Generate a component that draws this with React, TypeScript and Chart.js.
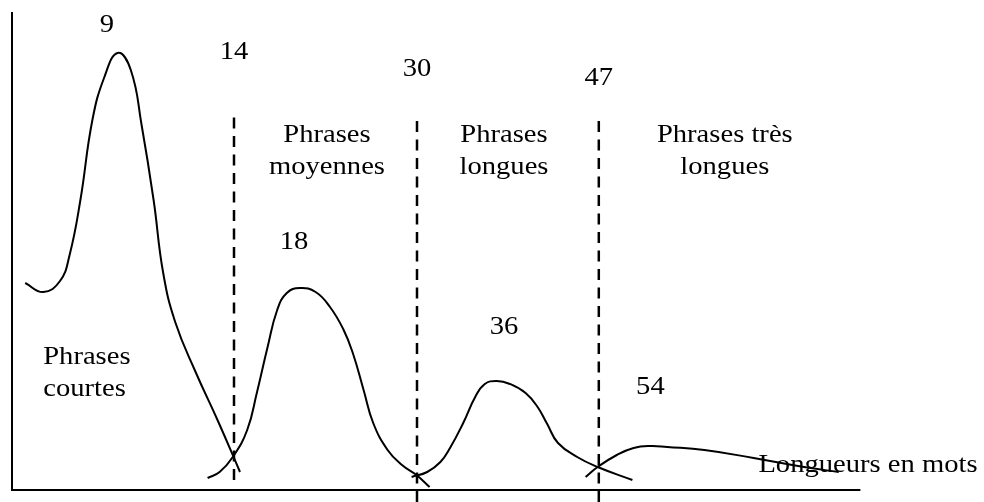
import React, { useEffect, useRef } from 'react';
import { Chart, registerables, ChartConfiguration, Plugin } from 'chart.js';

Chart.register(...registerables);

// schematic units: x = sentence length position, y = frequency
const courtesX = [1.1, 2.6, 4.0, 4.8, 5.7, 6.7, 7.7, 8.8, 9.9, 10.8, 11.8, 12.6, 13.6, 15.3, 17.2, 19.0];
const courtesY = [41.4, 39.6, 41.8, 47.0, 58.0, 74.0, 82.6, 87.4, 84.0, 73.0, 58.0, 43.4, 33.6, 23.6, 13.6, 3.6];

const moyennesX = [16.3, 17.3, 18.4, 19.6, 20.4, 21.3, 22.1, 22.9, 24.0, 25.3, 26.5, 27.6, 28.4, 29.3, 30.1, 31.3, 32.5, 33.7, 34.8];
const moyennesY = [2.4, 3.6, 6.6, 12.0, 19.4, 28.6, 36.0, 39.4, 40.4, 39.6, 36.6, 32.2, 27.4, 20.0, 13.4, 8.0, 5.0, 3.0, 0.6];

const longuesX = [33.3, 34.6, 35.7, 36.5, 37.6, 38.6, 39.4, 40.4, 41.5, 42.8, 43.8, 44.6, 45.5, 47.1, 48.8, 51.7];
const longuesY = [2.6, 3.6, 5.6, 8.4, 13.4, 18.6, 21.2, 21.8, 21.2, 19.4, 16.6, 13.2, 9.4, 6.6, 4.6, 2.0];

const tresLonguesX = [47.8, 48.8, 50.4, 51.8, 53.2, 54.6, 57.7, 61.8, 66.0, 68.9];
const tresLonguesY = [2.6, 4.6, 7.0, 8.4, 8.8, 8.6, 8.0, 6.4, 4.6, 3.6];

// class boundaries (schematic position) and their labels
const boundaryX = [18.5, 33.75, 48.9];
const boundaryTop = [75.4, 74.6, 74.0];
const boundaryBottom = [2.0, -2.4, -2.4];
const boundaryLabels = ['14', '30', '47'];

const peakLabels = ['9', '18', '36', '54'];
const classNames = [['Phrases', 'courtes'], ['Phrases', 'moyennes'], ['Phrases', 'longues'], ['Phrases très', 'longues']];
const axisTitle = 'Longueurs en mots';

const xAxisEnd = 70.7;
const yAxisTop = 95.6;

const zip = (xs: number[], ys: number[]) => xs.map((x, i) => ({ x, y: ys[i] }));

// text anchor points, in data units
const peakLabelPos = [[7.9, 93], [23.5, 49.6], [41, 32.6], [53.2, 20.6]];
const boundaryLabelY = [87.6, 84.2, 82.4];
const classPos = [[2.6, 26.6, 'left'], [26.25, 71, 'center'], [41, 71, 'center'], [59.4, 71, 'center']] as const;
const titlePos = [62.2, 5];

const FONT = '26px "Liberation Serif", "Times New Roman", serif';
const STRETCH = 1.1;

const textPlugin: Plugin = {
    id: 'schemaText',
    afterDatasetsDraw(chart) {
        const { ctx } = chart;
        const xs = chart.scales.x;
        const ys = chart.scales.y;
        const put = (text: string, x: number, y: number, align: CanvasTextAlign) => {
            const px = xs.getPixelForValue(x);
            const py = ys.getPixelForValue(y);
            ctx.save();
            ctx.translate(px, py);
            ctx.scale(STRETCH, 1);
            ctx.font = FONT;
            ctx.fillStyle = '#000';
            ctx.textAlign = align;
            ctx.textBaseline = 'middle';
            ctx.fillText(text, 0, 0);
            ctx.restore();
        };
        peakLabels.forEach((t, i) => put(t, peakLabelPos[i][0], peakLabelPos[i][1], 'center'));
        boundaryLabels.forEach((t, i) => put(t, boundaryX[i], boundaryLabelY[i], 'center'));
        classNames.forEach((lines, i) => {
            const [x, y, align] = classPos[i];
            lines.forEach((line, j) => put(line, x, y - j * 6.4, align));
        });
        put(axisTitle, titlePos[0], titlePos[1], 'left');
    },
};

const App: React.FC = () => {
    const canvasRef = useRef<HTMLCanvasElement>(null);
    const chartRef = useRef<Chart | null>(null);

    useEffect(() => {
        if (!canvasRef.current) return;
        const ctx = canvasRef.current.getContext('2d');
        if (!ctx) return;

        const curve = (data: { x: number; y: number }[]) => ({
            data,
            borderColor: '#000',
            borderWidth: 2,
            pointRadius: 0,
            fill: false,
            tension: 0.45,
        });

        const dashed = boundaryX.map((x, i) => ({
            data: [{ x, y: boundaryBottom[i] }, { x, y: boundaryTop[i] }],
            borderColor: '#000',
            borderWidth: 2.5,
            borderDash: [11, 7.5],
            pointRadius: 0,
            fill: false,
        }));

        const axes = [
            [{ x: 0, y: 0 }, { x: xAxisEnd, y: 0 }],
            [{ x: 0, y: -0.2 }, { x: 0, y: yAxisTop }],
        ].map((data) => ({
            data,
            borderColor: '#000',
            borderWidth: 2,
            pointRadius: 0,
            fill: false,
        }));

        chartRef.current = new Chart(ctx, {
            type: 'line',
            data: {
                datasets: [
                    ...axes,
                    ...dashed,
                    curve(zip(courtesX, courtesY)),
                    curve(zip(moyennesX, moyennesY)),
                    curve(zip(longuesX, longuesY)),
                    curve(zip(tresLonguesX, tresLonguesY)),
                ],
            },
            options: {
                animation: false,
                responsive: true,
                maintainAspectRatio: false,
                layout: { padding: 0 },
                plugins: { legend: { display: false }, tooltip: { enabled: false } },
                events: [],
                scales: {
                    x: { type: 'linear', min: -1, max: 81, display: false },
                    y: { type: 'linear', min: -2.4, max: 98, display: false },
                },
            },
            plugins: [textPlugin],
        } as ChartConfiguration);

        return () => {
            if (chartRef.current) {
                chartRef.current.destroy();
                chartRef.current = null;
            }
        };
    }, []);

    return (
        <div style={{ position: 'fixed', left: 0, top: 0, width: 984, height: 502, background: '#fff' }}>
            <canvas ref={canvasRef} />
        </div>
    );
};

export default App;
